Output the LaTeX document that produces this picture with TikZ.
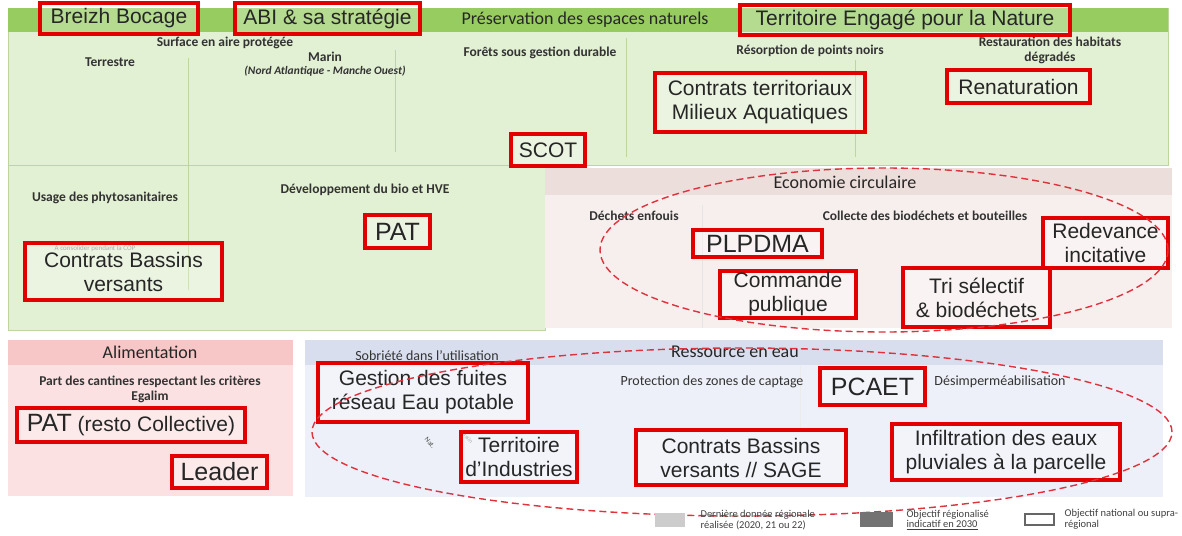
\documentclass[tikz,border=0pt]{standalone}
\usepackage{fontspec}
\setmainfont{Carlito}
\newfontfamily\arialf{Liberation Sans}
\definecolor{hdgreen}{RGB}{150,204,96}
\definecolor{bdgreen}{RGB}{226,240,211}
\definecolor{lngreen}{RGB}{188,214,158}
\definecolor{hdrose}{RGB}{236,222,219}
\definecolor{bdrose}{RGB}{247,239,238}
\definecolor{hdpink}{RGB}{247,198,198}
\definecolor{bdpink}{RGB}{251,225,225}
\definecolor{hdblue}{RGB}{217,222,238}
\definecolor{bdblue}{RGB}{237,240,248}
\definecolor{boxred}{RGB}{226,0,0}
\definecolor{dashred}{RGB}{222,50,60}

\begin{document}
\begin{tikzpicture}[x=1pt,y=-1pt,
		objbox/.style={draw=boxred, line width=3.3pt, fill=white, fill opacity=0.3, text opacity=1,
			align=center, inner sep=0pt, text=black!85, font=\arialf\fontsize{21}{24}\selectfont},
		bigbox/.style={objbox, font=\arialf\fontsize{25}{28}\selectfont},
		headtxt/.style={text=black!85, font=\fontsize{18}{20}\selectfont},
		subtxt/.style={text=black!80, align=center, font=\bfseries\fontsize{13.5}{15}\selectfont},
		lighttxt/.style={text=black!80, align=center, font=\fontsize{14}{15}\selectfont},
		tinytxt/.style={text=black!45, font=\fontsize{7}{8}\selectfont},
		sepline/.style={draw=lngreen, line width=0.7pt},
		circdash/.style={draw=dashred, line width=1.4pt, dash pattern=on 7pt off 4pt},
		legtxt/.style={text=black!75, align=left, anchor=west, font=\fontsize{10.5}{10.5}\selectfont}]
		\useasboundingbox (0,0) rectangle (1182,535);
		\fill[white] (0,0) rectangle (1182,535);
		% panels
		\fill[bdgreen, draw=lngreen] (8,8) rectangle (1168,165);
		\fill[hdgreen] (8,8) rectangle (1168,32);
		\fill[bdgreen, draw=lngreen] (8,165) rectangle (545,330);
		\fill[bdrose] (545,168) rectangle (1172,328);
		\fill[hdrose] (545,168) rectangle (1172,195);
		\fill[bdpink] (8,340) rectangle (293,496);
		\fill[hdpink] (8,340) rectangle (293,365);
		\fill[bdblue] (305,340) rectangle (1163,497);
		\fill[hdblue] (305,340) rectangle (1163,365);
		% separators
		\draw[sepline] (188,58) -- (188,290);
		\draw[sepline] (395,50) -- (395,152);
		\draw[sepline] (626,38) -- (626,157);
		\draw[sepline] (855,60) -- (855,157);
		\draw[draw=black!10, line width=0.7pt] (702,205) -- (702,328);
		\draw[draw=black!8, line width=0.7pt] (800,366) -- (800,432);
		% headers and indicators
		\node[headtxt] (preserv) at (585,20) {Préservation des espaces naturels};
		\node[subtxt] (surface) at (225,43) {Surface en aire protégée};
		\node[subtxt] (terrestre) at (110,62) {Terrestre};
		\node[subtxt] (marin) at (325,64) {Marin\\[-2pt]{\itshape\fontsize{11.5}{13}\selectfont (Nord Atlantique - Manche Ouest)}};
		\node[subtxt] (forets) at (540,53) {Forêts sous gestion durable};
		\node[subtxt] (resorption) at (810,51) {Résorption de points noirs};
		\node[subtxt] (restauration) at (1050,50) {Restauration des habitats\\dégradés};
		\node[subtxt] (phyto) at (105,198) {Usage des phytosanitaires};
		\node[subtxt] (bio) at (365,190) {Développement du bio et HVE};
		\node[tinytxt] (consolider) at (95,249) {A consolider pendant la COP};
		\node[headtxt] (eco) at (845,182) {Economie circulaire};
		\node[subtxt] (enfouis) at (634,216) {Déchets enfouis};
		\node[subtxt] (collecte) at (925,216) {Collecte des biodéchets et bouteilles};
		\node[headtxt] (alim) at (150,352) {Alimentation};
		\node[subtxt] (cantines) at (150,389) {Part des cantines respectant les critères\\Egalim};
		\node[headtxt] (eau) at (735,352) {Ressource en eau};
		\node[lighttxt] (sobriete) at (427,356) {Sobriété dans l’utilisation};
		\node[lighttxt] (captage) at (712,382) {Protection des zones de captage};
		\node[lighttxt] (desimper) at (1000,382) {Désimperméabilisation};
		\node[tinytxt, text=black!70, rotate=-50] (nat) at (430,443) {Nat.};
		\node[tinytxt, font=\fontsize{6}{7}\selectfont, rotate=-50] (bassin) at (467,437) {Bassin};
		% levers
		\node[objbox, minimum width=158pt, minimum height=31pt] (breizh) at (119,18.5) {Breizh Bocage};
		\node[objbox, minimum width=185pt, minimum height=31pt] (abi) at (327.5,18.5) {ABI \& sa stratégie};
		\node[objbox, minimum width=330pt, minimum height=30pt] (ten) at (905,20) {Territoire Engagé pour la Nature};
		\node[objbox, minimum width=210pt, minimum height=59pt] (ctma) at (760,102.5) {Contrats territoriaux\\Milieux Aquatiques};
		\node[objbox, minimum width=143pt, minimum height=33pt] (renat) at (1018.5,86.5) {Renaturation};
		\node[objbox, minimum width=74pt, minimum height=32pt] (scot) at (548,150) {SCOT};
		\node[bigbox, minimum width=65pt, minimum height=33pt] (patbio) at (397.5,231.5) {PAT};
		\node[objbox, minimum width=197pt, minimum height=57pt] (cbv) at (123.5,271.5) {Contrats Bassins\\versants};
		\node[bigbox, minimum width=129pt, minimum height=27pt] (plpdma) at (757.5,243.5) {PLPDMA};
		\node[objbox, minimum width=125pt, minimum height=50pt] (redevance) at (1105.5,243) {Redevance\\incitative};
		\node[objbox, minimum width=136pt, minimum height=47pt] (commande) at (788,294.5) {Commande\\publique};
		\node[objbox, minimum width=147pt, minimum height=59pt] (tri) at (976.5,297.5) {Tri sélectif\\\& biodéchets};
		\node[objbox, minimum width=228pt, minimum height=34pt] (patresto) at (131,425) {{\fontsize{25}{28}\selectfont PAT} (resto Collective)};
		\node[bigbox, minimum width=95pt, minimum height=32pt] (leader) at (219.5,472) {Leader};
		\node[objbox, minimum width=210pt, minimum height=59pt] (fuites) at (423,392.5) {Gestion des fuites\\réseau Eau potable};
		\node[bigbox, minimum width=105pt, minimum height=37pt] (pcaet) at (872.5,386.5) {PCAET};
		\node[objbox, minimum width=116pt, minimum height=50pt] (industries) at (519,457) {Territoire\\d’Industries};
		\node[objbox, minimum width=210pt, minimum height=55pt] (sage) at (741,457.5) {Contrats Bassins\\versants // SAGE};
		\node[objbox, minimum width=228pt, minimum height=56pt] (infiltr) at (1006,452) {Infiltration des eaux\\pluviales à la parcelle};
		% groupings
		\draw[circdash] (884,250) ellipse [x radius=284pt, y radius=82pt];
		\draw[circdash] (742,432) ellipse [x radius=430pt, y radius=84pt];
		% legend
		\fill[black!20] (655,513) rectangle (685,527);
		\node[legtxt] (legreal) at (697,520) {Dernière donnée régionale\\réalisée (2020, 21 ou 22)};
		\fill[black!55] (860,512) rectangle (893,527);
		\node[legtxt] (legobj) at (903,520) {Objectif régionalisé\\\underline{indicatif en 2030}};
		\draw[black!60, line width=2pt, fill=white] (1025,514) rectangle (1054,525);
		\node[legtxt] (legnat) at (1061,519) {Objectif national ou supra-\\régional};
	\end{tikzpicture}
\end{document}
